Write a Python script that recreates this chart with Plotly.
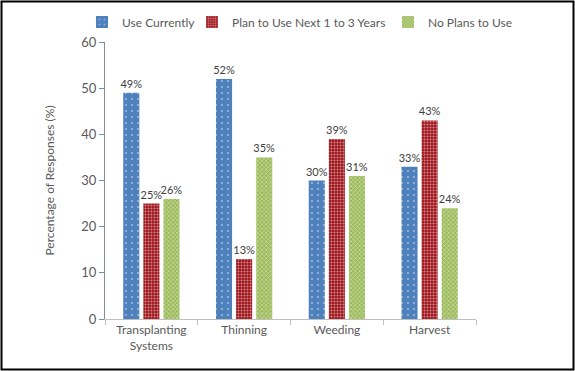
import plotly.graph_objects as go

# Data
categories = ["Transplanting<br>Systems", "Thinning", "Weeding", "Harvest"]
use_currently = [49, 52, 30, 33]
plan_to_use = [25, 13, 39, 43]
no_plans = [26, 35, 31, 24]
series_names = ["Use Currently", "Plan to Use Next 1 to 3 Years", "No Plans to Use"]

W, H = 575, 371
L, R, T, B = 105, 99, 42, 52
pw, ph = W - L - R, H - T - B

font_family = "Lato, Open Sans, sans-serif"
text_col = "#595959"

styles = [
    dict(color="#4F81BD", shape=".", size=6, solidity=0.08),
    dict(color="#A0161C", shape=".", size=3, solidity=0.35),
    dict(color="#9BBB59", shape="x", size=3, solidity=0.4),
]
legend_ids = ["legend", "legend2", "legend3"]
legend_text_x = [122, 232, 428]  # pixel where each legend label starts

fig = go.Figure()
for name, vals, st, lg in zip(series_names, [use_currently, plan_to_use, no_plans], styles, legend_ids):
    fig.add_trace(go.Bar(
        x=categories,
        y=vals,
        name=name,
        legend=lg,
        text=[f"{v}%" for v in vals],
        textposition="outside",
        constraintext="none",
        cliponaxis=False,
        textfont=dict(size=11, color="#404040", family=font_family),
        marker=dict(
            color=st["color"],
            line=dict(width=0),
            pattern=dict(shape=st["shape"], fgcolor="white", size=st["size"],
                         solidity=st["solidity"], fillmode="overlay"),
        ),
    ))

# outer black frame around the whole picture
fig.add_shape(
    type="rect", xref="paper", yref="paper",
    x0=(1.5 - L) / pw, x1=(W - 1.5 - L) / pw,
    y0=(1.5 - B) / ph, y1=(H - 1.5 - B) / ph,
    line=dict(color="black", width=2),
)

legends = {}
for lg, tx in zip(legend_ids, legend_text_x):
    legends[lg] = dict(
        orientation="h", x=(tx - 40 - L) / pw, xanchor="left",
        y=(H - B - 22) / ph, yanchor="middle",
        font=dict(size=12, color=text_col), itemwidth=30,
        bgcolor="rgba(0,0,0,0)", borderwidth=0,
    )

fig.update_layout(
    width=W, height=H,
    margin=dict(l=L, r=R, t=T, b=B, autoexpand=False),
    paper_bgcolor="white", plot_bgcolor="white",
    barmode="group", bargap=0.35, bargroupgap=0.2,
    font=dict(family=font_family, color=text_col, size=12),
    showlegend=True,
    **legends,
)

fig.update_xaxes(
    showline=True, linecolor="#BFBFBF", linewidth=1,
    ticks="outside", tickson="boundaries", ticklen=5, tickcolor="#BFBFBF",
    tickfont=dict(size=12, color=text_col), showgrid=False,
)
fig.update_yaxes(
    range=[0, 60], dtick=10, showline=True, linecolor="#7F8FA0", linewidth=1,
    ticks="outside", ticklen=5, tickcolor="#7F8FA0", showgrid=False, zeroline=False,
    tickfont=dict(size=13, color=text_col),
    title=dict(text="Percentage of Responses (%)", font=dict(size=12, color=text_col), standoff=24),
)

fig.write_html("out.html", config={"displayModeBar": False},
               post_script="document.body.style.margin='0';")
